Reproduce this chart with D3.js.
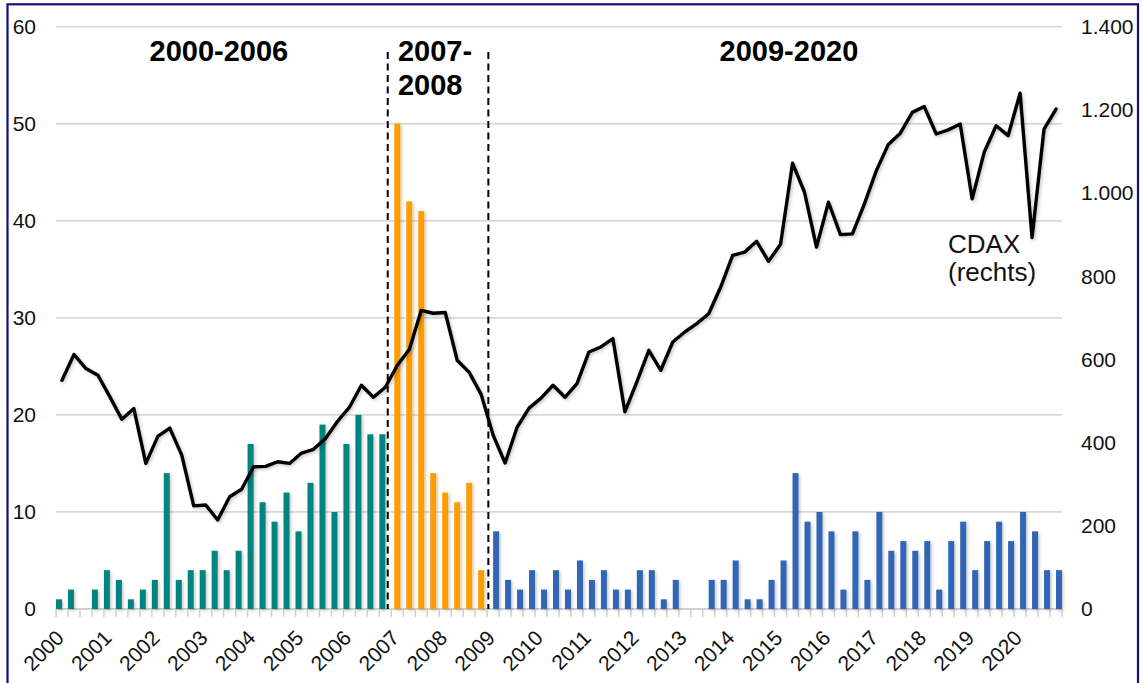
<!DOCTYPE html>
<html>
<head>
<meta charset="utf-8">
<script src="https://cdn.jsdelivr.net/npm/d3@7/dist/d3.min.js"></script>
<style>
  html, body { margin: 0; padding: 0; background: #ffffff; }
  svg { display: block; font-family: "Liberation Sans", Arial, sans-serif; }
</style>
</head>
<body>
<svg id="chart" width="1142" height="683"></svg>
<script>
// ---------------- DATA ----------------
const years = ["2000","2001","2002","2003","2004","2005","2006","2007","2008","2009","2010",
               "2011","2012","2013","2014","2015","2016","2017","2018","2019","2020"];

// Number of IPOs per quarter (left axis)
const ipo2000to2006 = [1,2,0,2, 4,3,1,2, 3,14,3,4, 4,6,4,6, 17,11,9,12, 8,13,19,10, 17,20,18,18];
const ipo2007to2008 = [50,42,41,14, 12,11,13,4];
const ipo2009to2020 = [8,3,2,4, 2,4,2,5, 3,4,2,2, 4,4,1,3, 0,0,3,3, 5,1,1,3,
                       5,14,9,10, 8,2,8,3, 10,6,7,6, 7,2,7,9, 4,7,9,7, 10,8,4,4];

// CDAX, quarterly (right axis)
const cdax = [550,612,578,562, 510,456,482,350, 415,435,370,248, 250,214,270,288,
              342,343,354,350, 375,384,410,451, 485,538,509,533, 586,624,718,711,
              713,598,569,516, 418,351,437,483, 507,538,509,542, 618,630,650,474,
              546,622,574,642, 666,686,710,774, 850,858,884,836, 877,1072,1002,870,
              978,900,902,974, 1054,1117,1144,1194, 1208,1142,1152,1166, 986,1098,1162,1138,
              1240,893,1154,1202];

const leftTicks = [0,10,20,30,40,50,60];
const rightTicks = [0,200,400,600,800,1000,1200,1400];

const periodLabels = [
  { lines: ["2000-2006"], pos: 13.6, anchor: "middle" },
  { lines: ["2007-", "2008"], pos: 28.55, anchor: "start" },
  { lines: ["2009-2020"], pos: 61.2, anchor: "middle" }
];
const dividers = [27.7, 36.1];   // in quarter-index units

// ---------------- LAYOUT ----------------
const svg = d3.select("#chart");
const M = { left: 56, right: 1062, top: 26.7, bottom: 609 };

const quarters = [];
years.forEach(y => { for (let q = 1; q <= 4; q++) quarters.push(y + "Q" + q); });

const x = d3.scaleBand().domain(quarters).range([M.left, M.right]).paddingInner(0).paddingOuter(0);
const xi = d3.scaleLinear().domain([0, quarters.length]).range([M.left, M.right]);
const yL = d3.scaleLinear().domain([0, 60]).range([M.bottom, M.top]);
const yR = d3.scaleLinear().domain([0, 1400]).range([M.bottom, M.top]);

// filter for soft shadow
const defs = svg.append("defs");
const f = defs.append("filter").attr("id", "shadow").attr("x", "-50%").attr("y", "-50%").attr("width", "200%").attr("height", "200%");
f.append("feDropShadow").attr("dx", 1.5).attr("dy", 1.5).attr("stdDeviation", 1.5)
  .attr("flood-color", "#000").attr("flood-opacity", 0.22);

// frame
svg.append("rect").attr("x", 7.5).attr("y", 4.3).attr("width", 1130.5).attr("height", 720)
  .attr("fill", "none").attr("stroke", "#12127a").attr("stroke-width", 2.2);

// gridlines
svg.append("g").selectAll("line").data(leftTicks.filter(d => d > 0)).join("line")
  .attr("x1", M.left).attr("x2", M.right)
  .attr("y1", d => yL(d)).attr("y2", d => yL(d))
  .attr("stroke", "#d9d9d9").attr("stroke-width", 1.8);

// x axis baseline and ticks
const xAxisG = svg.append("g");
xAxisG.append("line").attr("x1", M.left).attr("x2", M.right).attr("y1", M.bottom).attr("y2", M.bottom)
  .attr("stroke", "#d0d0d0").attr("stroke-width", 1.8);
xAxisG.selectAll("line.tk").data(d3.range(quarters.length + 1)).join("line").attr("class", "tk")
  .attr("x1", d => xi(d)).attr("x2", d => xi(d))
  .attr("y1", M.bottom).attr("y2", M.bottom + 8)
  .attr("stroke", "#cfcfcf").attr("stroke-width", 1.5);

// year labels
xAxisG.selectAll("text").data(years).join("text")
  .attr("transform", d => `translate(${x(d + "Q1") + 4},634) rotate(-45)`)
  .attr("text-anchor", "end").attr("dy", "0.35em")
  .attr("font-size", 21).attr("fill", "#111")
  .text(d => d);

// left axis labels
svg.append("g").selectAll("text").data(leftTicks).join("text")
  .attr("x", 36).attr("y", d => yL(d)).attr("dy", "0.35em")
  .attr("text-anchor", "end").attr("font-size", 21).attr("fill", "#111")
  .text(d => d);

// right axis labels
const fmtDE = d3.formatLocale({ decimal: ",", thousands: ".", grouping: [3], currency: ["", "€"] }).format(",");
svg.append("g").selectAll("text").data(rightTicks).join("text")
  .attr("x", 1081).attr("y", d => yR(d)).attr("dy", "0.35em")
  .attr("text-anchor", "start").attr("font-size", 21).attr("fill", "#111")
  .text(d => fmtDE(d));

// bars
const barW = 6;
const seriesDefs = [
  { values: ipo2000to2006, start: 0, color: "#00847f", offset: -3 },
  { values: ipo2007to2008, start: 28, color: "#ff9d00", offset: 0 },
  { values: ipo2009to2020, start: 36, color: "#3265b4", offset: 3 }
];
const barsG = svg.append("g").attr("filter", "url(#shadow)");
seriesDefs.forEach(s => {
  barsG.append("g").selectAll("rect")
    .data(s.values.map((v, i) => ({ q: quarters[s.start + i], v })).filter(d => d.v > 0))
    .join("rect")
    .attr("x", d => x(d.q) + x.bandwidth() / 2 + s.offset - barW / 2)
    .attr("width", barW)
    .attr("y", d => yL(d.v))
    .attr("height", d => yL(0) - yL(d.v))
    .attr("fill", s.color);
});

// CDAX line
const line = d3.line().x((d, i) => x(quarters[i]) + x.bandwidth() / 2).y(d => yR(d));
svg.append("path").datum(cdax).attr("d", line)
  .attr("fill", "none").attr("stroke", "#000").attr("stroke-width", 3.4)
  .attr("stroke-linejoin", "round").attr("stroke-linecap", "round")
  .attr("filter", "url(#shadow)");

// dividers
svg.append("g").selectAll("line").data(dividers).join("line")
  .attr("x1", d => xi(d)).attr("x2", d => xi(d))
  .attr("y1", 52).attr("y2", M.bottom)
  .attr("stroke", "#000").attr("stroke-width", 2).attr("stroke-dasharray", "7,4.5");

// period labels
periodLabels.forEach(p => {
  const t = svg.append("text").attr("text-anchor", p.anchor)
    .attr("font-size", 29).attr("font-weight", "bold").attr("fill", "#000");
  p.lines.forEach((ln, k) => {
    t.append("tspan").attr("x", xi(p.pos)).attr("y", 61 + k * 34).text(ln);
  });
});

// CDAX annotation
const ann = svg.append("text").attr("font-size", 26).attr("fill", "#111");
ann.append("tspan").attr("x", 948).attr("y", 253).text("CDAX");
ann.append("tspan").attr("x", 948).attr("y", 281).text("(rechts)");
</script>
</body>
</html>
